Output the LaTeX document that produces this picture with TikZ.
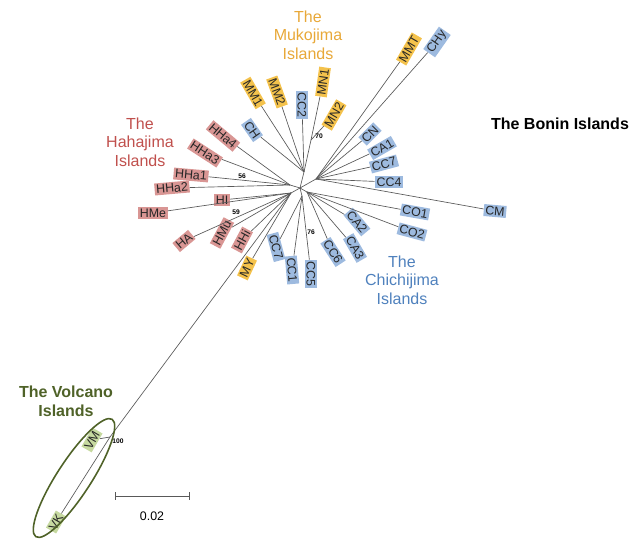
\documentclass[tikz,border=0pt]{standalone}
\usepackage{fontspec}
\setmainfont{Liberation Sans}
\definecolor{hahafill}{HTML}{D99694}
\definecolor{chichifill}{HTML}{9DBADF}
\definecolor{mukofill}{HTML}{F4C24C}
\definecolor{volcfill}{HTML}{C6D9A0}
\definecolor{hahatext}{HTML}{C0504D}
\definecolor{chichitext}{HTML}{4F81BD}
\definecolor{mukotext}{HTML}{E8A838}
\definecolor{volctext}{HTML}{4F6228}
\begin{document}
\begin{tikzpicture}[
   x=0.75pt, y=0.75pt,
   font=\fontsize{9.3}{10}\selectfont,
   tip/.style={inner sep=1.2pt, fill=#1, text=black!85},
   haha/.style={tip=hahafill},
   chichi/.style={tip=chichifill},
   muko/.style={tip=mukofill},
   volc/.style={tip=volcfill},
   branch/.style={draw=black!65, line width=0.5pt},
   boot/.style={font=\fontsize{5}{6}\selectfont\bfseries, inner sep=0pt},
   title/.style={font=\fontsize{12}{14}\selectfont, align=center}
]
\useasboundingbox (0,0) rectangle (640,-545);

% internal nodes
\coordinate (c0) at (300,-188);
\coordinate (cM) at (304,-172);
\coordinate (cMN) at (311,-140);
\coordinate (cR) at (316,-179);
\coordinate (cBR) at (307,-192);
\coordinate (cC) at (302,-196);
\coordinate (cL) at (290,-185);
\coordinate (cL2) at (291,-193);
\coordinate (cV) at (110,-437);

% Mukojima side
\node[muko] (MM1) at (253,-93) [rotate=-60] {MM1};
\node[muko] (MM2) at (277,-92) [rotate=-70] {MM2};
\node[chichi] (CC2) at (302,-105) [rotate=-90] {CC2};
\node[muko] (MN1) at (323,-82) [rotate=82] {MN1};
\node[muko] (MN2) at (334,-115) [rotate=60] {MN2};
\node[chichi] (CH) at (252,-130) [rotate=-55] {CH};

% Hahajima side
\node[haha] (HHa4) at (223,-136) [rotate=-40] {HHa4};
\node[haha] (HHa3) at (205,-153) [rotate=-33] {HHa3};
\node[haha] (HHa1) at (191,-175) [rotate=-5] {HHa1};
\node[haha] (HHa2) at (172,-188) [rotate=5] {HHa2};
\node[haha] (HI) at (222,-200) {HI};
\node[haha] (HMe) at (153,-213) {HMe};
\node[haha] (HA) at (184,-241) [rotate=40] {HA};
\node[haha] (HMu) at (222,-233) [rotate=62] {HMu};
\node[haha] (HHi) at (242,-240) [rotate=62] {HHi};
\node[muko] (MY) at (247,-268) [rotate=65] {MY};

% Chichijima side
\node[chichi] (c7l) at (276,-247) [rotate=-75] {CC7};
\node[chichi] (CC1) at (292,-270) [rotate=-85] {CC1};
\node[chichi] (CC5) at (311,-274) [rotate=-90] {CC5};
\node[chichi] (CC6) at (333,-252) [rotate=-57] {CC6};
\node[chichi] (CA3) at (355,-248) [rotate=-60] {CA3};
\node[chichi] (CA2) at (357,-222) [rotate=-50] {CA2};
\node[muko] (MMT) at (409,-49) [rotate=60] {MMT};
\node[chichi] (CHy) at (437,-42) [rotate=55] {CHy};
\node[chichi] (CN) at (370,-134) [rotate=45] {CN};
\node[chichi] (CA1) at (382,-148) [rotate=30] {CA1};
\node[chichi] (c7r) at (384,-164) [rotate=15] {CC7};
\node[chichi] (CC4) at (389,-182) {CC4};
\node[chichi] (CM) at (495,-211) [rotate=-5] {CM};
\node[chichi] (CO1) at (415,-212) [rotate=-10] {CO1};
\node[chichi] (CO2) at (412,-232) [rotate=-15] {CO2};

% Volcano
\node[volc] (VM) at (92,-440) [rotate=60] {VM};
\node[volc] (VK) at (56,-522) [rotate=60] {VK};

% branches
\draw[branch] (c0) -- (cM) (cM) -- (cMN) (c0) -- (cR) (c0) -- (cBR)
   (c0) -- (cC) (c0) -- (cL) (c0) -- (cL2) (cL2) -- (cV);
\foreach \t in {MM1,MM2,CC2,CH} \draw[branch] (cM) -- (\t);
\foreach \t in {MN1,MN2} \draw[branch] (cMN) -- (\t);
\foreach \t in {HHa4,HHa3,HHa1,HHa2} \draw[branch] (cL) -- (\t);
\foreach \t in {HI,HMe,HA,HMu,HHi,MY} \draw[branch] (cL2) -- (\t);
\foreach \t in {c7l,CC1,CC5} \draw[branch] (cC) -- (\t);
\foreach \t in {CC6,CA3,CA2,CO1,CO2} \draw[branch] (cBR) -- (\t);
\foreach \t in {MMT,CHy,CN,CA1,c7r,CC4,CM} \draw[branch] (cR) -- (\t);
\foreach \t in {VM,VK} \draw[branch] (cV) -- (\t);

% bootstrap values
\node[boot] (b70) at (319,-136) {70};
\node[boot] (b56) at (242,-176) {56};
\node[boot] (b59) at (236,-212) {59};
\node[boot] (b76) at (311,-232) {76};
\node[boot] (b100) at (118,-441) {100};

% Volcano group
\draw[draw=volctext, line width=1.2pt] (74,-478) ellipse [x radius=70, y radius=17, rotate=57];

% group titles
\node[title, text=mukotext] (tMuko) at (308,-35) {The\\Mukojima\\Islands};
\node[title, text=hahatext] (tHaha) at (140,-142) {The\\Hahajima\\Islands};
\node[title, text=chichitext] (tChichi) at (402,-280) {The\\Chichijima\\Islands};
\node[title, font=\fontsize{12}{14}\selectfont\bfseries] (tBonin) at (560,-124) {The Bonin Islands};
\node[title, font=\fontsize{12}{14}\selectfont\bfseries, text=volctext] (tVolc) at (66,-401) {The Volcano\\Islands};

% scale bar
\coordinate (s1) at (115,-496);
\coordinate (s2) at (190,-496);
\draw[branch, |-|] (s1) -- (s2);
\node (sc) at (152,-516) {0.02};
\end{tikzpicture}
\end{document}
